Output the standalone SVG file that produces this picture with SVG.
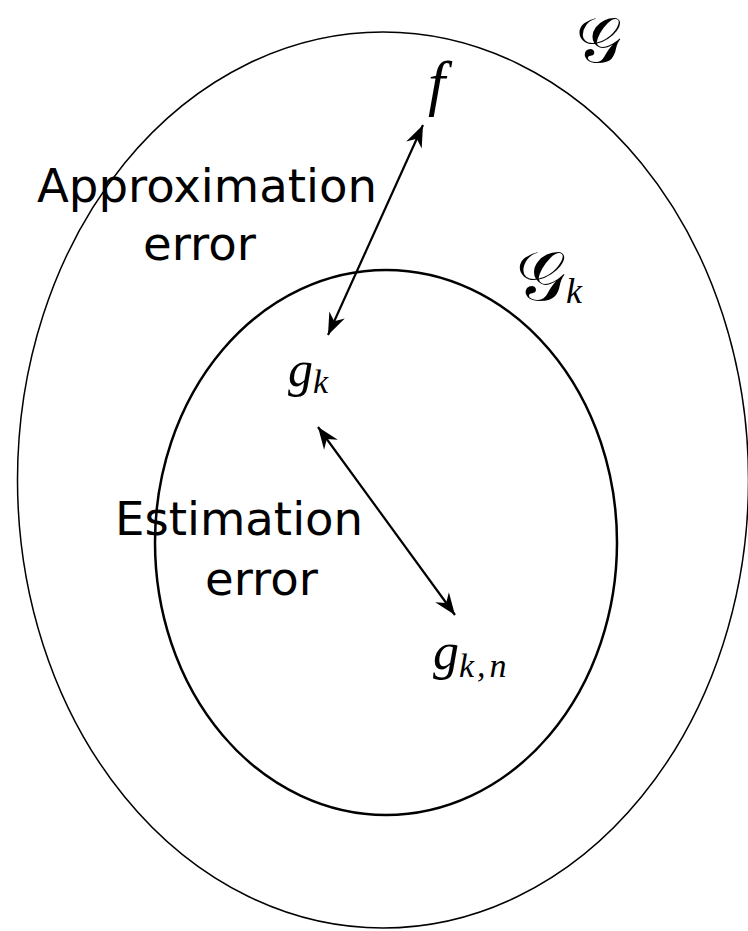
<svg xmlns="http://www.w3.org/2000/svg" width="748" height="931" viewBox="0 0 748 931">
<style>
.lbl{font-family:"DejaVu Sans",sans-serif;font-size:46.6px;fill:#000}
.math{font-family:"Liberation Serif","DejaVu Serif",serif;font-style:italic;fill:#000}
.cal{font-family:"DejaVu Serif","Liberation Serif",serif;font-style:normal;fill:#000}
.conn{stroke:#000;stroke-width:2.2;fill:none}
</style>
<defs>
<marker id="ah" viewBox="-24 -10 26 20" refX="0" refY="0" markerWidth="26" markerHeight="20" markerUnits="userSpaceOnUse" orient="auto-start-reverse">
<path d="M0,0 L-22,-8.5 L-15,0 L-22,8.5 Z" fill="#000"/>
</marker>
</defs>
<rect width="748" height="931" fill="#fff"/>
<g id="outer-set">
<ellipse cx="383" cy="480" rx="365.5" ry="448" fill="none" stroke="#000" stroke-width="1.5"/>
<text class="cal" x="576" y="62" font-size="64">𝒢</text>
</g>
<g id="inner-set">
<ellipse cx="386" cy="542.5" rx="231" ry="272.5" fill="none" stroke="#000" stroke-width="2.5"/>
<text class="cal" x="516" y="300" font-size="70">𝒢<tspan class="math" font-size="36" dy="3">k</tspan></text>
</g>
<g id="f">
<text class="math" x="428" y="104" font-size="62">f</text>
</g>
<g id="gk">
<text class="math" x="288" y="386" font-size="50">g<tspan font-size="34" dy="7">k</tspan></text>
</g>
<g id="gkn">
<text class="math" x="433" y="669" font-size="52">g<tspan font-size="34" dy="8">k<tspan dx="3">,</tspan><tspan dx="4">n</tspan></tspan></text>
</g>
<g id="approx-label">
<text class="lbl" x="37" y="202">Approximation</text>
<text class="lbl" x="143" y="260">error</text>
</g>
<g id="estim-label">
<text class="lbl" x="115" y="535">Estimation</text>
<text class="lbl" x="205" y="595">error</text>
</g>
<g id="connectors">
<line class="conn" x1="423" y1="125" x2="328" y2="335" marker-start="url(#ah)" marker-end="url(#ah)"/>
<line class="conn" x1="318" y1="427" x2="455" y2="615" marker-start="url(#ah)" marker-end="url(#ah)"/>
</g>
</svg>
